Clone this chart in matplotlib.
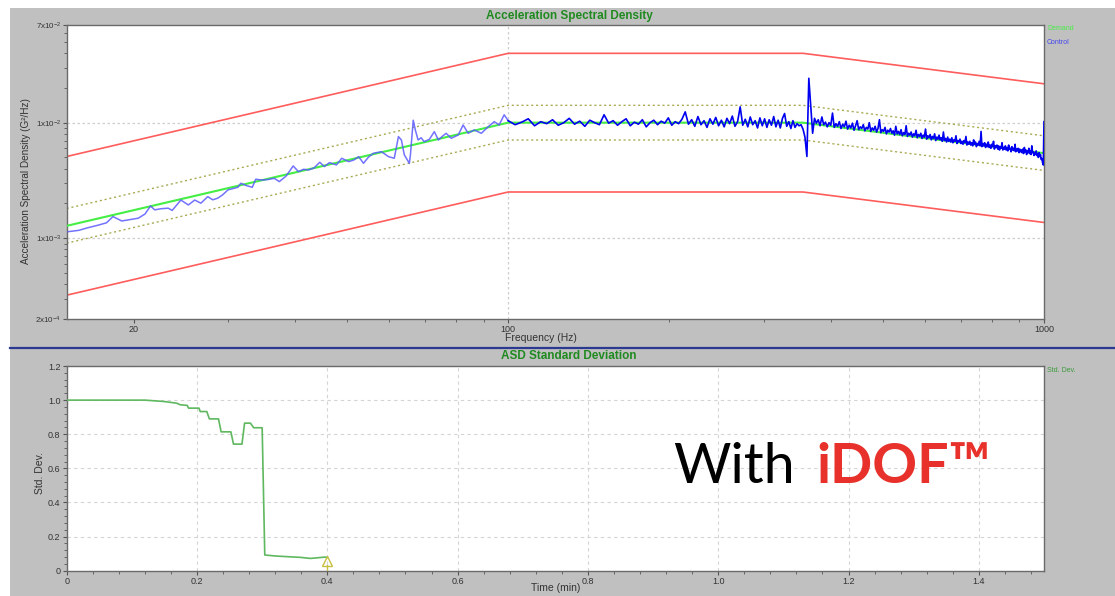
import numpy as np
import matplotlib
matplotlib.use("Agg")
import matplotlib.pyplot as plt
from matplotlib.patches import Rectangle
from matplotlib.lines import Line2D
from matplotlib import ticker

plt.rcParams['font.family'] = ['Liberation Sans', 'DejaVu Sans']
plt.rcParams['mathtext.fontset'] = 'custom'
plt.rcParams['mathtext.rm'] = 'Liberation Sans'
plt.rcParams['mathtext.it'] = 'Liberation Sans'

# ── data ─────────────────────────────────────────────────────────────────────

# demand profile (G^2/Hz) and tolerance bands (dB)
demand_freq = [15, 100, 355, 1000]
demand_asd = [1.28e-3, 1.0e-2, 1.0e-2, 5.45e-3]
alarm_db = 1.5
abort_db = 6.0

# control spectrum, low band (Hz, 1e-3 G^2/Hz)
ctrl_lo_freq = [15.1, 15.8, 16.4, 17.2, 17.8, 18.3, 19.0, 19.7, 20.4, 21.0,
                21.5, 21.9, 22.5, 23.2, 23.6, 24.5, 25.3, 26.0, 26.7, 27.5,
                28.1, 28.7, 29.3, 30.0, 31.3, 31.7, 32.5, 33.3, 33.8, 34.7,
                35.6, 36.6, 37.4, 38.5, 39.7, 40.6, 41.5, 42.4, 43.4, 44.5,
                45.4, 46.4, 47.8, 48.9, 50.4, 51.5, 52.6, 53.7, 54.8, 56.0,
                58.0, 59.8, 61.3, 62.4, 63.2, 64.0, 65.4, 65.7, 66.5, 67.1,
                67.9, 68.8, 69.7, 71.3, 72.8, 74.1, 75.3, 76.6, 78.3, 80.7,
                82.4, 84.2, 86.4, 89.1, 91.8, 94.2, 96.2, 98.3]
ctrl_lo_asd = [1.14, 1.17, 1.23, 1.30, 1.36, 1.54, 1.41, 1.45, 1.49, 1.62,
               1.90, 1.76, 1.80, 1.82, 1.74, 2.14, 1.94, 2.14, 2.01, 2.29,
               2.15, 2.22, 2.37, 2.62, 2.76, 2.99, 2.85, 2.76, 3.24, 3.19,
               3.22, 3.30, 3.09, 3.45, 4.22, 3.77, 3.95, 3.90, 4.05, 4.54,
               4.17, 4.51, 4.31, 4.92, 4.60, 4.75, 5.08, 4.45, 5.00, 5.43,
               5.61, 5.08, 4.92, 7.57, 7.08, 5.26, 4.45, 5.26, 10.5, 8.65,
               7.08, 7.40, 6.85, 7.18, 8.36, 7.08, 7.60, 8.09, 7.33, 7.83,
               9.55, 8.09, 8.65, 8.09, 9.23, 10.2, 9.55, 11.7]

# control spectrum, 100-1000 Hz in 3 Hz lines (1e-3 G^2/Hz)
ctrl_hi_asd = [
    10.4, 9.6, 10.1, 10.8, 9.4, 10.2, 9.8, 10.6, 9.5, 10.0,
    10.9, 9.7, 10.3, 9.3, 10.5, 10.0, 9.6, 11.7, 9.9, 10.4,
    9.5, 10.2, 10.8, 9.4, 10.1, 9.7, 10.6, 9.2, 10.0, 10.5,
    9.6, 10.3, 9.9, 11.0, 9.5, 10.2, 9.8, 10.7, 12.4, 9.7,
    10.6, 9.3, 11.3, 9.6, 10.4, 9.1, 10.8, 9.7, 11.1, 9.4,
    10.5, 9.2, 10.9, 9.8, 11.4, 9.3, 10.2, 13.7, 9.5, 10.7,
    9.2, 11.2, 9.6, 10.4, 9.0, 11.0, 9.4, 10.8, 9.1, 10.6,
    9.5, 11.3, 9.2, 10.5, 9.0, 10.9, 12.0, 9.3, 10.2, 8.9,
    10.4, 9.1, 9.8, 9.4, 9.6, 8.8, 7.5, 5.1, 24.2, 13.8,
    8.1, 10.9, 9.9, 10.6, 9.4, 11.2, 9.6, 10.1, 9.2, 10.0,
    9.5, 12.1, 9.1, 9.8, 9.3, 10.2, 8.9, 9.7, 9.2, 10.3,
    8.8, 9.5, 9.0, 9.9, 8.6, 9.4, 10.4, 8.7, 9.2, 8.9,
    9.6, 8.5, 9.1, 8.8, 10.0, 8.4, 9.0, 8.6, 9.3, 8.3,
    8.9, 10.6, 8.2, 8.7, 8.4, 9.1, 8.0, 8.6, 8.3, 8.9,
    8.1, 8.5, 7.8, 9.3, 8.0, 8.4, 7.9, 8.7, 7.7, 8.2,
    7.9, 9.4, 7.6, 8.1, 7.8, 8.3, 7.5, 8.0, 7.7, 8.6,
    7.4, 7.9, 7.6, 8.1, 7.3, 7.8, 7.5, 8.8, 7.2, 7.7,
    7.4, 7.9, 7.1, 7.6, 7.3, 8.0, 7.0, 7.5, 7.2, 7.8,
    7.1, 7.4, 6.9, 8.3, 7.0, 7.3, 6.8, 7.5, 6.9, 7.2,
    6.8, 7.4, 6.7, 7.1, 6.9, 7.7, 6.6, 7.0, 6.8, 7.2,
    6.6, 6.9, 6.5, 7.0, 6.7, 7.6, 6.4, 6.8, 6.5, 6.9,
    6.4, 6.7, 6.3, 7.1, 6.5, 6.8, 6.2, 6.6, 6.4, 6.9,
    6.3, 8.4, 6.2, 6.6, 6.3, 6.7, 6.1, 6.5, 6.2, 6.8,
    6.1, 6.4, 6.0, 6.5, 6.2, 6.9, 5.9, 6.3, 6.1, 6.4,
    5.9, 6.3, 5.8, 6.2, 6.0, 6.7, 5.8, 6.1, 5.9, 6.3,
    5.8, 6.1, 5.7, 6.4, 5.9, 6.0, 5.6, 6.2, 5.8, 6.0,
    5.7, 6.5, 5.6, 5.9, 5.7, 6.0, 5.5, 5.9, 5.6, 5.8,
    5.5, 5.9, 5.4, 6.1, 5.6, 5.8, 5.3, 5.7, 5.5, 6.0,
    5.4, 5.7, 5.3, 6.3, 5.5, 5.6, 5.2, 5.5, 5.3, 5.7,
    5.2, 5.4, 5.0, 5.5, 5.1, 5.3, 4.8, 4.9, 4.5, 4.3,
    10.2,
]

# ASD standard deviation vs time
std_time = [0, 0.12, 0.149, 0.169, 0.174, 0.185, 0.187, 0.203, 0.205, 0.215,
            0.219, 0.233, 0.237, 0.252, 0.256, 0.269, 0.273, 0.282, 0.287, 0.300,
            0.304, 0.321, 0.359, 0.374, 0.397, 0.400]
std_dev = [1.0, 1.0, 0.992, 0.982, 0.973, 0.969, 0.953, 0.953, 0.933, 0.933,
           0.890, 0.890, 0.814, 0.814, 0.742, 0.742, 0.865, 0.865, 0.838, 0.838,
           0.092, 0.086, 0.078, 0.072, 0.080, 0.078]
marker_time = 0.4

# ── canvas ───────────────────────────────────────────────────────────────────

W, H = 1115, 596
fig = plt.figure(figsize=(W / 100, H / 100), dpi=100)
fig.patch.set_facecolor("white")

GRAY = "#c0c0c0"
TXT = "#333333"
TITLE_GREEN = "#1f8a1f"

fig.add_artist(Rectangle((10 / W, 0), 1 - 10 / W, 1 - 8 / H,
                         transform=fig.transFigure, facecolor=GRAY,
                         edgecolor="none", zorder=-10))
fig.add_artist(Line2D([10 / W, 1], [1 - 348 / H] * 2, transform=fig.transFigure,
                      color="#2b3990", lw=1.6))


def px(x, y):
    return x / W, 1 - y / H


def style_axes(ax):
    for s in ax.spines.values():
        s.set_color("#6a6a6a")
        s.set_linewidth(1.0)
    ax.tick_params(which="both", direction="out", colors="#555555",
                   labelcolor=TXT, labelsize=6.5, pad=1.5)
    ax.tick_params(which="major", length=3)
    ax.tick_params(which="minor", length=2)


# ── top: acceleration spectral density ───────────────────────────────────────

ax1 = fig.add_axes([66.7 / W, 1 - 319 / H, (1044 - 66.7) / W, (319 - 25) / H])
ax1.set_xscale("log")
ax1.set_yscale("log")
ax1.set_xlim(15, 1000)
ax1.set_ylim(2e-4, 7e-2)
style_axes(ax1)
ax1.tick_params(axis="y", labelsize=5.8, pad=1)

dem = np.array(demand_asd)
abort_k = 10 ** (abort_db / 10)
alarm_k = 10 ** (alarm_db / 10)

for yv in (1e-3, 1e-2):
    ax1.axhline(yv, color="#cfcfcf", lw=0.9, ls=(0, (2, 2)), zorder=1)
ax1.axvline(100, color="#cfcfcf", lw=0.9, ls=(0, (2, 2)), zorder=1)

ax1.plot(demand_freq, dem * abort_k, color="#ff5c5c", lw=1.2, zorder=2)
ax1.plot(demand_freq, dem / abort_k, color="#ff5c5c", lw=1.2, zorder=2)
ax1.plot(demand_freq, dem * alarm_k, color="#aaaa55", lw=1.0, ls=(0, (1.5, 2)), zorder=2)
ax1.plot(demand_freq, dem / alarm_k, color="#aaaa55", lw=1.0, ls=(0, (1.5, 2)), zorder=2)
ax1.plot(demand_freq, dem, color="#44ee44", lw=1.5, zorder=3)

ctrl_hi_freq = np.linspace(100, 1000, len(ctrl_hi_asd))
lo_f = list(ctrl_lo_freq) + [ctrl_hi_freq[0]]
lo_v = np.array(list(ctrl_lo_asd) + [ctrl_hi_asd[0]]) * 1e-3
ax1.plot(lo_f, lo_v, color="#5a5aff", lw=1.1, alpha=0.85, zorder=4)
ax1.plot(ctrl_hi_freq, np.array(ctrl_hi_asd) * 1e-3, color="#0000f0", lw=1.2, zorder=4)

ax1.set_xticks([20, 100, 1000])
ax1.set_xticklabels(["20", "100", "1000"])
ax1.xaxis.set_minor_formatter(ticker.NullFormatter())
ax1.set_yticks([2e-4, 1e-3, 1e-2, 7e-2])
ax1.set_yticklabels([r"$\mathregular{2x10^{-4}}$", r"$\mathregular{1x10^{-3}}$",
                     r"$\mathregular{1x10^{-2}}$", r"$\mathregular{7x10^{-2}}$"])
ax1.yaxis.set_minor_formatter(ticker.NullFormatter())

# ── bottom: ASD standard deviation ───────────────────────────────────────────

ax2 = fig.add_axes([66.7 / W, 1 - 570.7 / H, (1044 - 66.7) / W, (570.7 - 366) / H])
ax2.set_xlim(0, 1.5)
ax2.set_ylim(0, 1.2)
style_axes(ax2)
ax2.set_xticks(np.arange(0, 1.41, 0.2))
ax2.set_yticks(np.arange(0, 1.21, 0.2))
fmt = ticker.FuncFormatter(lambda v, p: "0" if abs(v) < 1e-9 else f"{v:.1f}")
ax2.xaxis.set_major_formatter(fmt)
ax2.yaxis.set_major_formatter(fmt)
ax2.xaxis.set_minor_locator(ticker.MultipleLocator(0.04))
ax2.yaxis.set_minor_locator(ticker.MultipleLocator(0.04))
ax2.grid(True, which="major", color="#d4d4d4", lw=0.8, ls=(0, (3, 3)))
ax2.set_axisbelow(True)

ax2.plot(std_time, std_dev, color="#5fb85f", lw=1.2, zorder=3)
ax2.plot([marker_time, marker_time], [0, 0.035], color="#c8c040", lw=1.0, zorder=4)
ax2.plot([marker_time], [0.055], marker="^", ms=7, mfc="none", mec="#c8c040",
         mew=1.0, zorder=4)

# ── labels & titles ──────────────────────────────────────────────────────────

fig.text(*px(569, 16), "Acceleration Spectral Density", ha="center", va="center",
         fontsize=8.5, fontweight="bold", color=TITLE_GREEN)
fig.text(*px(569, 356), "ASD Standard Deviation", ha="center", va="center",
         fontsize=8.5, fontweight="bold", color=TITLE_GREEN)
fig.text(*px(541, 338), "Frequency (Hz)", ha="center", va="center", fontsize=7.5, color=TXT)
fig.text(*px(556, 588), "Time (min)", ha="center", va="center", fontsize=7.5, color=TXT)
fig.text(*px(26, 181), "Acceleration Spectral Density (G²/Hz)", ha="center", va="center",
         rotation=90, fontsize=7.2, color=TXT)
fig.text(*px(40, 473), "Std. Dev.", ha="center", va="center",
         rotation=90, fontsize=7.5, color=TXT)

fig.text(*px(1047, 29), "Demand", ha="left", va="center", fontsize=5, color="#44ee44")
fig.text(*px(1047, 43), "Control", ha="left", va="center", fontsize=5, color="#4444ee")
fig.text(*px(1047, 370), "Std. Dev.", ha="left", va="center", fontsize=5, color="#3a9a3a")

fig.text(*px(673, 483.3), "With", ha="left", va="baseline", fontsize=40,
         family="Lato", color="black")
fig.text(*px(816, 483.3), "iDOF™", ha="left", va="baseline", fontsize=40,
         family="Lato", fontweight="bold", color="#e8312b")

fig.savefig("out.png", dpi=100, facecolor="white")
